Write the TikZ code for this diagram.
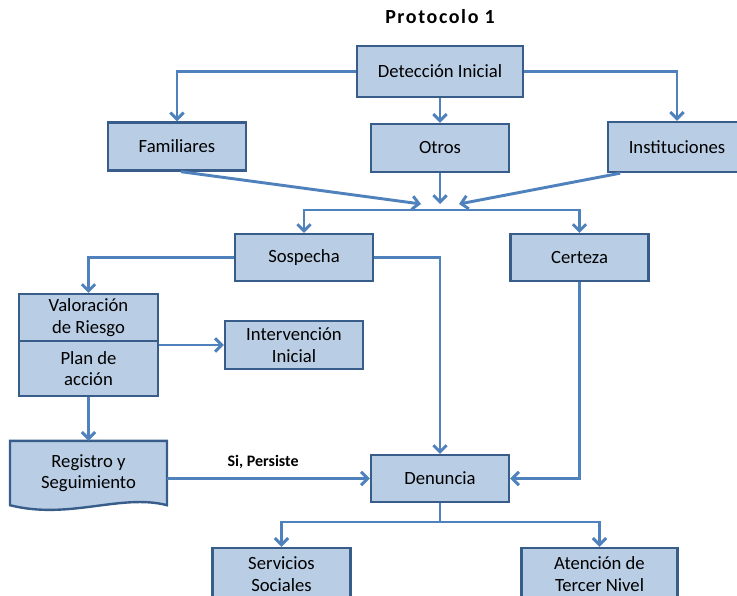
\documentclass[tikz,border=0pt]{standalone}
\usepackage{fontspec}
\setmainfont{Carlito}
\usetikzlibrary{arrows.meta,backgrounds}
\definecolor{relleno}{RGB}{185,205,229}
\definecolor{borde}{RGB}{56,93,138}
\definecolor{azul}{RGB}{79,129,189}
\tikzset{
    caja/.style={draw=borde, fill=relleno, line width=1.8pt, align=center,
        minimum width=103.5pt, minimum height=36pt, inner sep=2pt,
        font=\fontsize{14}{16}\selectfont},
    tramo/.style={draw=azul, line width=2.2pt},
    flecha/.style={tramo, -{Straight Barb[length=5pt,width=10pt]}},
    doble/.style={tramo, {Straight Barb[length=5pt,width=10pt]}-{Straight Barb[length=5pt,width=10pt]}}
}
\begin{document}
\begin{tikzpicture}[x=0.75pt,y=-0.75pt]
    \clip (0,0) rectangle (737,595);
    \node (titulo) at (440,17) {\fontsize{15}{17}\selectfont\bfseries\addfontfeature{LetterSpace=8}Protocolo 1};
    \node[caja, minimum width=124.5pt, minimum height=38pt] (deteccion) at (440,71.5) {Detección Inicial};
    \node[caja] (familiares) at (177,146.5) {Familiares};
    \node[caja] (otros) at (440,148) {Otros};
    \node[caja, minimum height=37.5pt] (instituciones) at (677,147) {Instituciones};
    \node[caja, minimum height=35pt] (sospecha) at (304,257.5) {Sospecha};
    \node[caja, minimum height=35pt] (certeza) at (579.5,257.5) {Certeza};
    \node[caja, minimum width=104pt, minimum height=35pt] (valoracion) at (88.5,317.5) {Valoración\\de Riesgo};
    \node[caja, minimum width=104pt, minimum height=41pt] (plan) at (88.5,368.5) {Plan de\\acción};
    \node[caja] (intervencion) at (294,345) {Intervención\\Inicial};
    \node[caja, draw=none, fill=none, minimum width=116pt, minimum height=46.5pt] (registro) at (88.5,473) {Registro y\\Seguimiento};
    \node[caja, minimum height=35pt] (denuncia) at (440,478.5) {Denuncia};
    \node[caja, minimum height=39pt] (servicios) at (281.5,574) {Servicios\\Sociales};
    \node[caja, minimum width=117pt, minimum height=39pt] (atencion) at (599.5,574) {Atención de\\Tercer Nivel};
    \begin{scope}[on background layer]
        \draw[draw=borde, fill=relleno, line width=1.8pt] (registro.south west) -- (registro.north west)
            -- (registro.north east) -- (registro.south east)
            .. controls +(-46,-12) and +(59,15) .. (registro.south west) -- cycle;
    \end{scope}

    \draw[flecha] (deteccion.west) -| (familiares.north);
    \draw[flecha] (deteccion.east) -| (instituciones.north);
    \draw[flecha] (deteccion) -- (otros);
    \coordinate (c1) at (421,204);
    \coordinate (c2) at (440,204);
    \coordinate (c3) at (459,204);
    \draw[flecha] ([xshift=3]familiares.south) -- (c1);
    \draw[flecha] (otros.south) -- (c2);
    \draw[flecha] ([xshift=10]instituciones.south west) -- (c3);
    \coordinate (barra) at (440,210);
    \draw[doble] (sospecha.north) |- (barra) -| (certeza.north);
    \draw[flecha] (sospecha.west) -| (valoracion.north);
    \draw[flecha] (sospecha.east) -| (denuncia.north);
    \draw[flecha] (plan.north east |- intervencion.west) -- (intervencion.west);
    \draw[flecha] (plan.south) -- (registro.north);
    \draw[flecha] (registro.east |- denuncia.west) -- node[above=3pt, xshift=-4, font=\fontsize{12}{14}\selectfont\bfseries] (persiste) {Si, Persiste} (denuncia.west);
    \draw[flecha] (certeza.south) |- (denuncia.east);
    \coordinate (rama) at (440,522);
    \draw[tramo] (denuncia.south) -- (rama);
    \draw[doble] (servicios.north) |- (rama) -| (atencion.north);
\end{tikzpicture}
\end{document}
